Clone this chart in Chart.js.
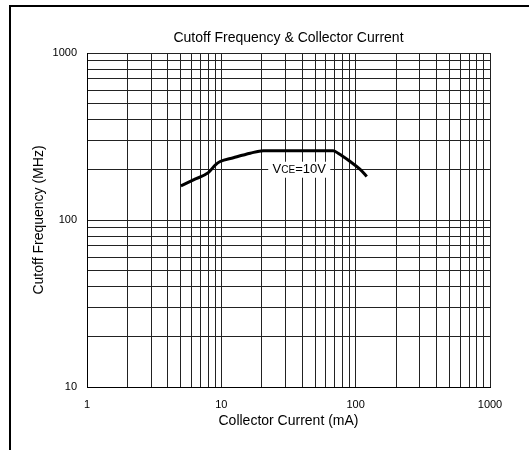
<!DOCTYPE html>
<html>
<head>
<meta charset="utf-8">
<script src="https://cdn.jsdelivr.net/npm/chart.js@4"></script>
<style>
  body { margin: 0; background: #fff; }
  canvas { display: block; }
</style>
</head>
<body>
<canvas id="chart" width="529" height="450"></canvas>
<script>
const TITLE = 'Cutoff Frequency & Collector Current'
const X_LABEL = 'Collector Current (mA)'
const Y_LABEL = 'Cutoff Frequency (MHz)'

// collector current (mA) vs cutoff frequency (MHz), VCE = 10V
const current = [5, 6.2, 8, 9, 9.8, 12.3, 16.4, 20.5, 68, 74, 91, 108, 121]
const cutoff  = [160, 174, 192, 213, 224, 236, 251, 260, 260, 251, 224, 201, 182]

const xTicks = [1, 2, 3, 4, 5, 6, 7, 8, 9, 10, 20, 30, 40, 50, 60, 70, 80, 90,
                100, 200, 300, 400, 500, 600, 700, 800, 900, 1000]
const yTicks = [10, 20, 30, 40, 50, 60, 70, 80, 90, 100, 200, 300, 400, 500,
                600, 700, 800, 900, 1000]
const decades = [1, 10, 100, 1000]

const curveLabel = { x: 38, y: 200 }

const FONT = '"Liberation Sans", Arial, sans-serif'

const decorations = {
  id: 'decorations',
  afterDatasetsDraw(chart) {
    const { ctx, chartArea, scales } = chart
    ctx.save()

    // curve label with white box
    const cx = scales.x.getPixelForValue(curveLabel.x)
    const cy = scales.y.getPixelForValue(curveLabel.y)
    ctx.fillStyle = '#fff'
    ctx.fillRect(cx - 31, cy - 8, 62, 16)
    ctx.fillStyle = '#000'
    ctx.textBaseline = 'middle'
    ctx.textAlign = 'left'
    ctx.font = '13px ' + FONT
    const wV = ctx.measureText('V').width
    ctx.font = '10px ' + FONT
    const wCE = ctx.measureText('CE').width
    ctx.font = '13px ' + FONT
    const wRest = ctx.measureText('=10V').width
    let x0 = cx - (wV + wCE + wRest) / 2
    ctx.fillText('V', x0, cy)
    ctx.font = '10px ' + FONT
    ctx.fillText('CE', x0 + wV, cy + 1)
    ctx.font = '13px ' + FONT
    ctx.fillText('=10V', x0 + wV + wCE, cy)

    // title
    ctx.textAlign = 'center'
    ctx.font = '14px ' + FONT
    ctx.fillText(TITLE, (chartArea.left + chartArea.right) / 2, 38)

    // outer frame (top and left only)
    ctx.fillStyle = '#000'
    ctx.fillRect(9, 5, 520, 2)
    ctx.fillRect(9, 5, 2, 445)
    ctx.restore()
  },
}

function fixedTicks(values) {
  return (scale) => { scale.ticks = values.map(v => ({ value: v })) }
}

function decadeLabel(v) {
  return decades.includes(v) || v === 10 ? String(v) : ''
}

new Chart(document.getElementById('chart'), {
  type: 'line',
  data: {
    datasets: [{
      data: current.map((c, i) => ({ x: c, y: cutoff[i] })),
      borderColor: '#000',
      borderWidth: 3,
      pointRadius: 0,
      cubicInterpolationMode: 'monotone',
      fill: false,
    }],
  },
  options: {
    responsive: false,
    devicePixelRatio: 1,
    animation: false,
    layout: { padding: { top: 53, right: 39, bottom: 0, left: 0 } },
    plugins: { legend: { display: false }, tooltip: { enabled: false } },
    scales: {
      x: {
        type: 'logarithmic',
        min: 1, max: 1000,
        afterBuildTicks: fixedTicks(xTicks),
        afterFit: (s) => { s.height = 63 },
        grid: { color: '#222', lineWidth: 1, drawTicks: false },
        border: { color: '#000', width: 1 },
        ticks: {
          autoSkip: false, maxRotation: 0, padding: 11, color: '#000',
          font: { family: FONT, size: 11 },
          callback: (v) => decadeLabel(v),
        },
        title: {
          display: true, text: X_LABEL, color: '#000',
          font: { family: FONT, size: 14 },
          padding: { top: 0, bottom: 20 },
        },
      },
      y: {
        type: 'logarithmic',
        min: 10, max: 1000,
        afterBuildTicks: fixedTicks(yTicks),
        afterFit: (s) => { s.width = 87 },
        grid: { color: '#222', lineWidth: 1, drawTicks: false },
        border: { color: '#000', width: 1 },
        ticks: {
          autoSkip: false, padding: 10, color: '#000',
          font: { family: FONT, size: 11 },
          callback: (v) => decadeLabel(v),
        },
        title: {
          display: true, text: Y_LABEL, color: '#000',
          font: { family: FONT, size: 14 },
          padding: { top: 31, bottom: 0 },
        },
      },
    },
  },
  plugins: [decorations],
})
</script>
</body>
</html>
